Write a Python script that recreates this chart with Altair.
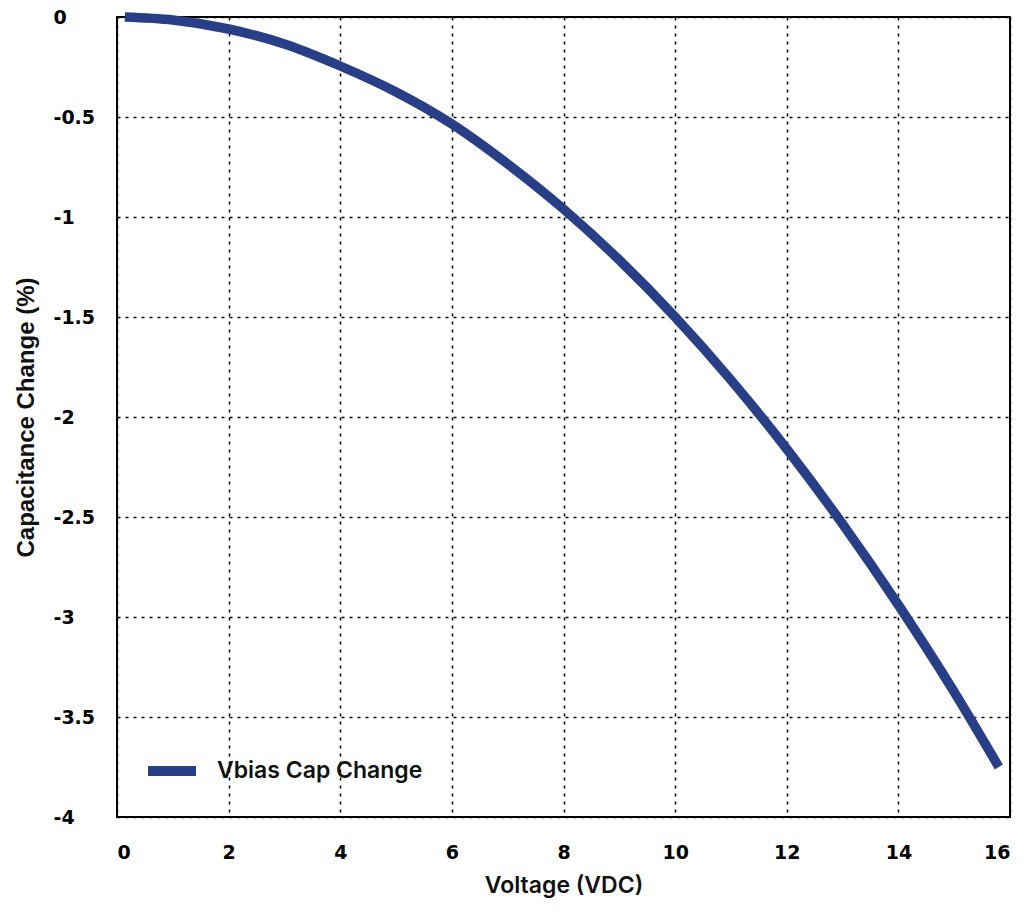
import altair as alt
import pandas as pd

voltage = [0.14, 1, 2, 3, 4, 5, 6, 7, 8, 9, 10, 11, 12, 13, 14, 15, 15.8]
cap_change = [0.0, -0.015, -0.06, -0.135, -0.245, -0.375, -0.535, -0.735, -0.96,
              -1.215, -1.5, -1.815, -2.16, -2.535, -2.94, -3.375, -3.75]
series_name = "Vbias Cap Change"
x_ticks = [0, 2, 4, 6, 8, 10, 12, 14, 16]
y_ticks = [0, -0.5, -1, -1.5, -2, -2.5, -3, -3.5, -4]

df = pd.DataFrame({"V": voltage, "C": cap_change, "s": [series_name] * len(voltage)})

line = alt.Chart(df).mark_line(strokeWidth=9.5, strokeCap="butt", interpolate="monotone").encode(
    x=alt.X("V:Q", scale=alt.Scale(domain=[0, 16], nice=False, zero=False),
            axis=alt.Axis(values=x_ticks, title="Voltage (VDC)", labelPadding=26,
                          titlePadding=12, labelExpr="'' + datum.value")),
    y=alt.Y("C:Q", scale=alt.Scale(domain=[-4, 0], nice=False, zero=False),
            axis=alt.Axis(values=y_ticks, title="Capacitance Change (%)", labelPadding=64,
                          labelAlign="left", titlePadding=15,
                          labelExpr="'' + datum.value")),
    color=alt.Color("s:N", scale=alt.Scale(range=["#283F87"]),
                    legend=alt.Legend(title=None, orient="none", legendX=26, legendY=725,
                                      symbolType="stroke", symbolStrokeWidth=10,
                                      symbolSize=2304, labelOffset=16, labelLimit=0,
                                      labelFont="Inter", labelFontWeight=600,
                                      labelFontSize=23, labelColor="#111")),
    order="V:Q",
)

chart = line.properties(
    width=893, height=800,
    autosize=alt.AutoSizeParams(type="none"),
    padding={"left": 109, "top": 9, "right": 14, "bottom": 88},
).configure_view(stroke="#000", strokeWidth=2).configure_axis(
    grid=True, gridColor="#000", gridDash=[3, 5], gridWidth=1.5, gridOpacity=1,
    domain=False, ticks=False,
    labelFont="DejaVu Sans", labelFontWeight="bold", labelFontSize=19, labelColor="#000",
).configure_axisX(
    titleFont="Inter", titleFontWeight=600, titleFontSize=23, titleColor="#111",
).configure_axisY(
    titleFont="Liberation Sans", titleFontWeight="bold", titleFontSize=24, titleColor="#111",
)

chart.save("out.html", embed_options={"renderer": "svg", "actions": False})
